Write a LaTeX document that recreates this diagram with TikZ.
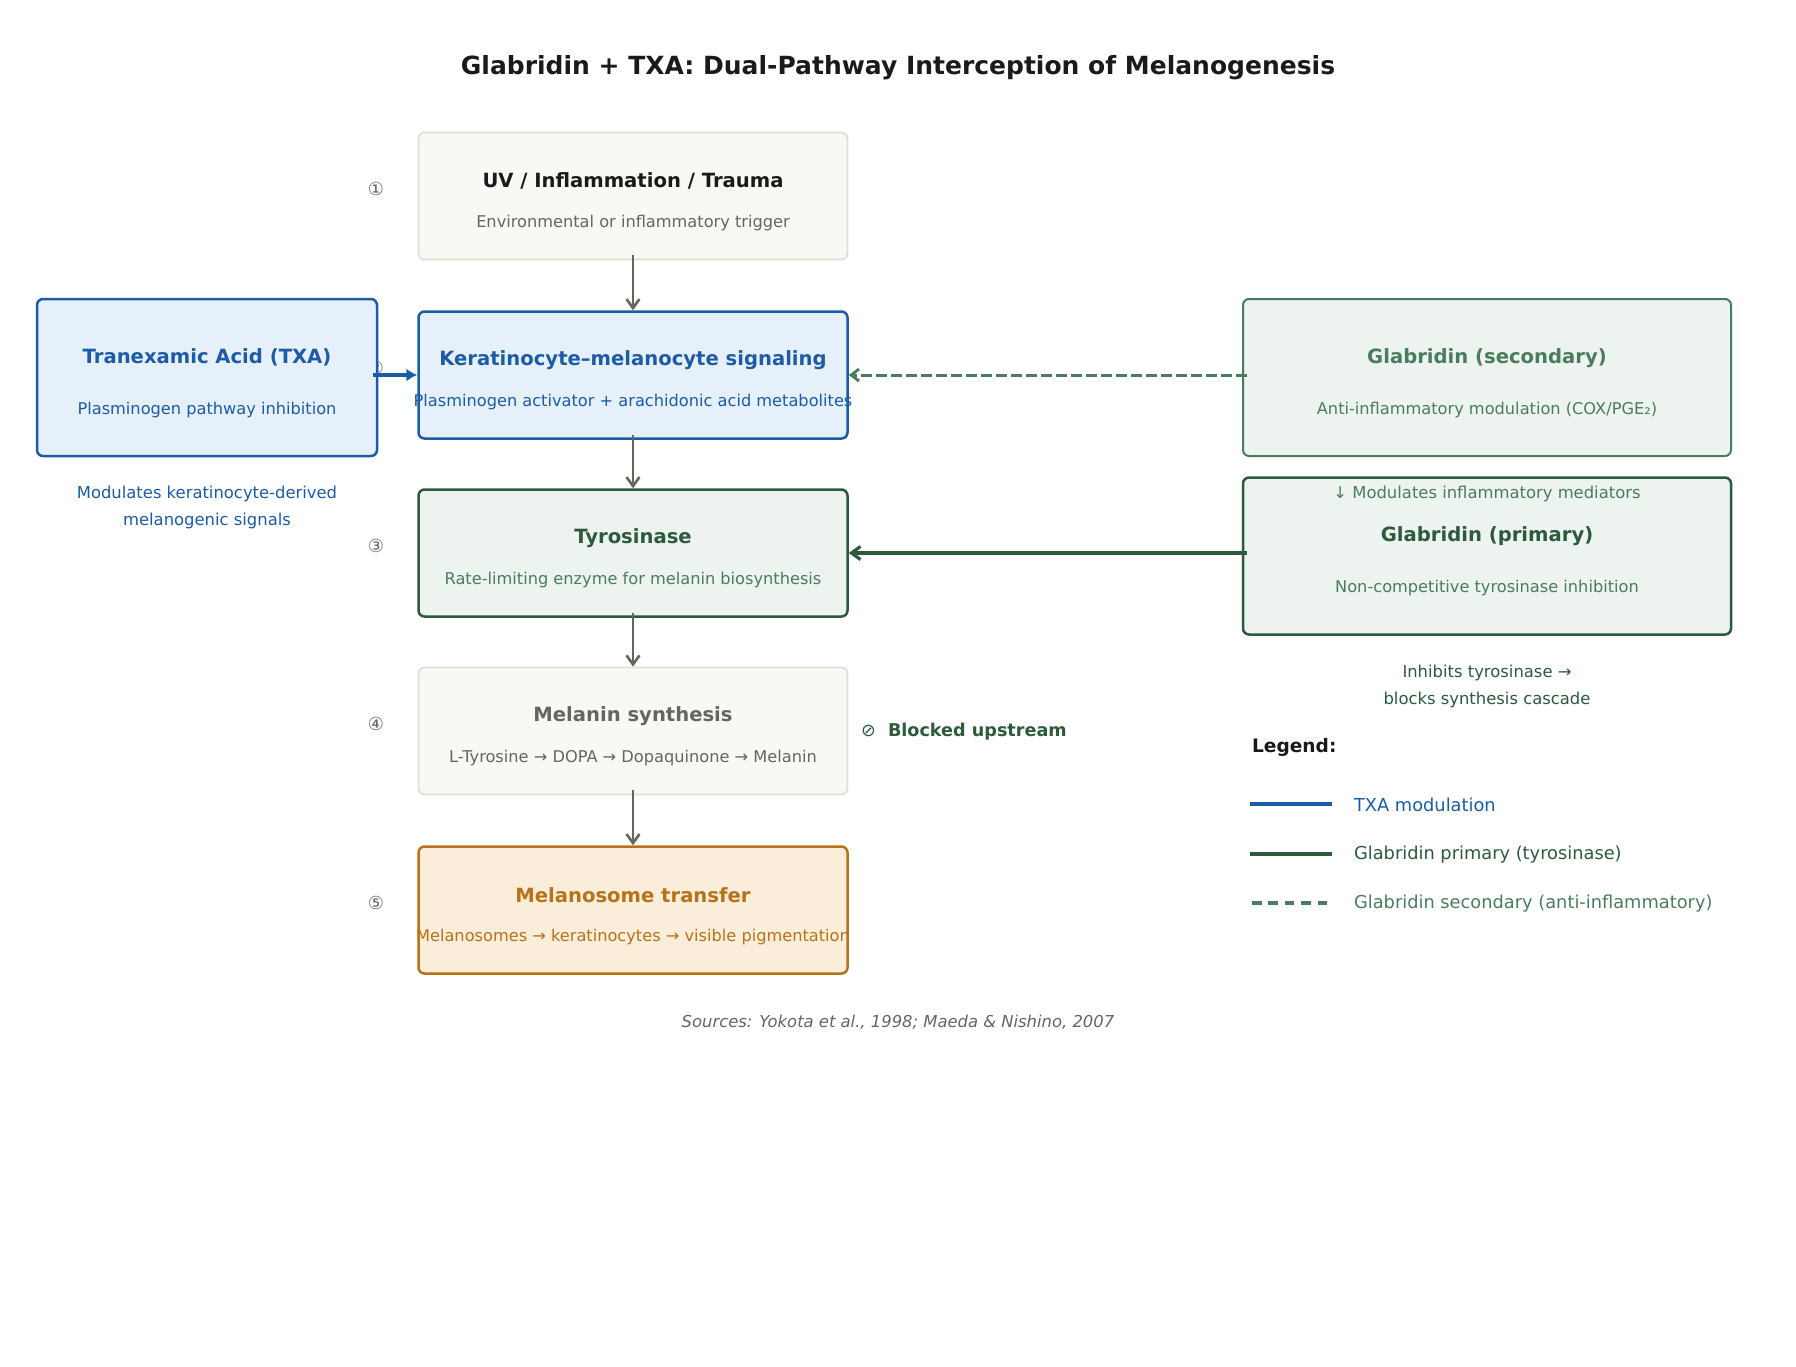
\documentclass[tikz,border=0pt]{standalone}
\usepackage{fontspec}
\setmainfont{DejaVu Sans}
\usetikzlibrary{positioning,arrows.meta}

\definecolor{inkdark}{HTML}{1A1A1A}
\definecolor{inkgray}{HTML}{66665F}
\definecolor{neutralfill}{HTML}{F8F8F5}
\definecolor{neutraledge}{HTML}{E0E0D6}
\definecolor{txablue}{HTML}{1B5CA5}
\definecolor{txafill}{HTML}{E6F0FA}
\definecolor{glabdark}{HTML}{2B5A3D}
\definecolor{glablight}{HTML}{4A7C5E}
\definecolor{glabfill}{HTML}{EDF3EE}
\definecolor{melorange}{HTML}{B87318}
\definecolor{melfill}{HTML}{FAEDDA}

\begin{document}
\begin{tikzpicture}[
    x=0.5pt, y=-0.5pt,
    box/.style={
        draw,
        rounded corners=3pt,
        inner sep=0pt,
        minimum width=214.5pt,
        minimum height=63.5pt
    },
    sidebox/.style={box, minimum height=78.5pt},
    btitle/.style={font=\bfseries\fontsize{9.8}{12}\selectfont},
    bsub/.style={font=\fontsize{8.1}{10}\selectfont},
    note/.style={font=\fontsize{8.2}{13.2}\selectfont, align=center},
    stepnum/.style={font=\fontsize{9}{10}\selectfont, text=inkgray},
    flow/.style={-{Straight Barb[length=4.5pt,width=6.5pt,line width=1.3pt]}, draw=inkgray, line width=1.35pt, shorten <=-2.5pt},
    legline/.style={line width=2pt}
]
\useasboundingbox (0,0) rectangle (1796,1367);

% title
\node[font=\bfseries\fontsize{12.5}{15}\selectfont, text=inkdark] (title) at (898,68)
    {Glabridin + TXA: Dual-Pathway Interception of Melanogenesis};

% main cascade
\node[box, draw=neutraledge, fill=neutralfill, line width=0.9pt] (uv) at (633,196) {};
\node[box, draw=txablue, fill=txafill, line width=1.25pt] (ker) at (633,375) {};
\node[box, draw=glabdark, fill=glabfill, line width=1.25pt] (tyr) at (633,553) {};
\node[box, draw=neutraledge, fill=neutralfill, line width=0.9pt] (mel) at (633,731) {};
\node[box, draw=melorange, fill=melfill, line width=1.25pt] (mst) at (633,910) {};

\node[btitle, text=inkdark] (uvT) at ([yshift=7.4pt]uv.center) {UV / Inflammation / Trauma};
\node[bsub, text=inkgray] (uvS) at ([yshift=-13.5pt]uv.center) {Environmental or inflammatory trigger};
\node[btitle, text=txablue] (kerT) at ([yshift=7.4pt]ker.center) {Keratinocyte–melanocyte signaling};
\node[bsub, text=txablue] (kerS) at ([yshift=-13.5pt]ker.center) {Plasminogen activator + arachidonic acid metabolites};
\node[btitle, text=glabdark] (tyrT) at ([yshift=7.4pt]tyr.center) {Tyrosinase};
\node[bsub, text=glablight] (tyrS) at ([yshift=-13.5pt]tyr.center) {Rate-limiting enzyme for melanin biosynthesis};
\node[btitle, text=inkgray] (melT) at ([yshift=7.4pt]mel.center) {Melanin synthesis};
\node[bsub, text=inkgray] (melS) at ([yshift=-13.5pt]mel.center) {L-Tyrosine → DOPA → Dopaquinone → Melanin};
\node[btitle, text=melorange] (mstT) at ([yshift=7.4pt]mst.center) {Melanosome transfer};
\node[bsub, text=melorange] (mstS) at ([yshift=-13.5pt]mst.center) {Melanosomes → keratinocytes → visible pigmentation};

% step numbers
\node[stepnum] (s1) at (376,189) {①};
\node[stepnum] (s2) at (376,368) {②};
\node[stepnum] (s3) at (376,546) {③};
\node[stepnum] (s4) at (376,724) {④};
\node[stepnum] (s5) at (376,903) {⑤};

% side agents
\node[sidebox, minimum width=170pt, draw=txablue, fill=txafill, line width=1.25pt] (txa) at (207,377.5) {};
\node[btitle, text=txablue] (txaT) at ([yshift=9.9pt]txa.center) {Tranexamic Acid (TXA)};
\node[bsub, text=txablue] (txaS) at ([yshift=-16.2pt]txa.center) {Plasminogen pathway inhibition};
\node[note, text=txablue] (txaN) at (207,507.5) {Modulates keratinocyte-derived\\melanogenic signals};

\node[sidebox, minimum width=244pt, draw=glablight, fill=glabfill, line width=1pt] (glab2) at (1487,377.5) {};
\node[btitle, text=glablight] (glab2T) at ([yshift=9.9pt]glab2.center) {Glabridin (secondary)};
\node[bsub, text=glablight] (glab2S) at ([yshift=-16.2pt]glab2.center) {Anti-inflammatory modulation (COX/PGE₂)};

\node[sidebox, minimum width=244pt, draw=glabdark, fill=glabfill, line width=1.25pt] (glab1) at (1487,556) {};
\node[btitle, text=glabdark] (glab1T) at ([yshift=9.9pt]glab1.center) {Glabridin (primary)};
\node[bsub, text=glablight] (glab1S) at ([yshift=-16.2pt]glab1.center) {Non-competitive tyrosinase inhibition};
\node[note, text=glablight] (glab2N) at (1487,494) {↓ Modulates inflammatory mediators};
\node[note, text=glabdark] (glab1N) at (1487,686.5) {Inhibits tyrosinase →\\blocks synthesis cascade};

\node[anchor=west, text=glabdark, font=\fontsize{8.8}{10}\selectfont] (block) at (854,731.5)
    {⊘\enspace\kern1.7pt\textbf{Blocked upstream}};

% connectors
\draw[flow] (uv) -- (ker);
\draw[flow] (ker) -- (tyr);
\draw[flow] (tyr) -- (mel);
\draw[flow] (mel) -- (mst);
\draw[-{Latex[length=5.5pt,width=6.5pt]}, draw=txablue, line width=2pt, shorten <=-2.5pt] (txa.east |- ker.west) -- (ker.west);
\draw[-{Straight Barb[length=4pt,width=6pt,line width=1.4pt]}, draw=glablight, line width=1.5pt, dash pattern=on 5.5pt off 2pt, shorten <=-2.5pt] (glab2.west |- ker.east) -- (ker.east);
\draw[-{Straight Barb[length=4.5pt,width=6.5pt,line width=1.6pt]}, draw=glabdark, line width=1.7pt, shorten <=-2.5pt] (glab1.west |- tyr.east) -- (tyr.east);

% legend
\node[anchor=west, font=\bfseries\fontsize{9.3}{11}\selectfont, text=inkdark] (legT) at (1245,747) {Legend:};
\coordinate (l1a) at (1250,804); \coordinate (l1b) at (1332,804);
\coordinate (l2a) at (1250,854); \coordinate (l2b) at (1332,854);
\coordinate (l3a) at (1252,903); \coordinate (l3b) at (1330,903);
\draw[legline, txablue] (l1a) -- (l1b);
\draw[legline, glabdark] (l2a) -- (l2b);
\draw[line width=1.6pt, glablight, dash pattern=on 4.8pt off 3.4pt] (l3a) -- (l3b);
\node[anchor=west, font=\fontsize{8.9}{10}\selectfont, text=txablue] (leg1) at (1347,805) {TXA modulation};
\node[anchor=west, font=\fontsize{8.9}{10}\selectfont, text=glabdark] (leg2) at (1347,855) {Glabridin primary (tyrosinase)};
\node[anchor=west, font=\fontsize{8.9}{10}\selectfont, text=glablight] (leg3) at (1347,904) {Glabridin secondary (anti-inflammatory)};

% sources
\node[font=\itshape\fontsize{8.2}{10}\selectfont, text=inkgray] (src) at (898,1022)
    {Sources: Yokota et al., 1998; Maeda \& Nishino, 2007};

\end{tikzpicture}
\end{document}
